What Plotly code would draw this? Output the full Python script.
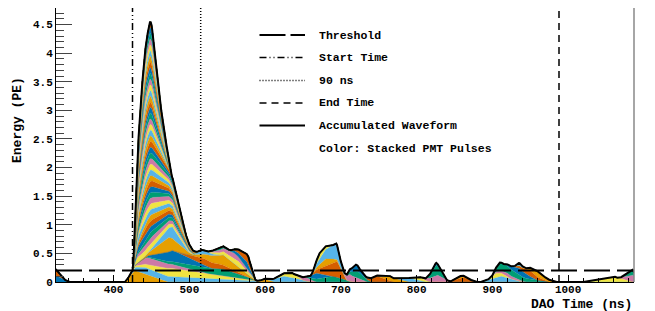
import plotly.graph_objects as go

# ---------------- data ----------------
# Triangle pulse: (start ns, peak ns, end ns, amplitude PE)
# Trapezoid pulse: (start ns, top-begin ns, top-end ns, end ns, amplitude PE)
# Stacked bottom first.
pulses_left_edge = [
    (310, 322, 342, 0.12),
    (312, 324, 336, 0.11),
]
pulses_main_base = [
    (415, 428, 470, 0.20),
    (418, 440, 600, 0.12),
    (420, 475, 595, 0.15),
    (425, 445, 520, 0.12),
    (430, 545, 590, 0.12),
    (440, 478, 530, 0.20),
    (480, 520, 580, 0.12),
    (500, 545, 588, 0.18),
    (505, 516, 540, 0.08),
    (520, 565, 590, 0.10),
    (525, 560, 585, 0.10),
    (525, 540, 560, 0.05),
    (552, 576, 586, 0.12),
    (555, 578, 587, 0.15),
    (440, 472, 505, 0.25),
    (445, 478, 500, 0.20),
]
pulses_main_peak = [
    (425, 432, 449, 512, 0.1), (426, 440, 450, 508, 0.1), (425, 447, 451, 510, 0.1),
    (426, 433, 448, 506, 0.1), (427, 441, 449, 514, 0.1), (425, 448, 450, 509, 0.1),
    (426, 431, 447, 511, 0.1), (427, 439, 450, 507, 0.1), (426, 446, 452, 510, 0.1),
    (425, 432, 448, 496, 0.1), (426, 440, 449, 493, 0.1), (427, 447, 450, 497, 0.1),
    (425, 433, 447, 494, 0.1), (426, 441, 451, 498, 0.1), (427, 448, 450, 492, 0.1),
    (426, 431, 449, 495, 0.1), (425, 439, 448, 496, 0.1), (427, 442, 450, 494, 0.1),
    (426, 446, 451, 497, 0.1),
    (425, 432, 449, 476, 0.1), (426, 440, 450, 474, 0.1), (427, 447, 449, 477, 0.1),
    (425, 433, 448, 473, 0.1), (426, 441, 450, 475, 0.1), (427, 448, 451, 476, 0.1),
    (426, 432, 447, 474, 0.1), (425, 439, 449, 477, 0.1), (427, 442, 450, 473, 0.1),
    (426, 447, 450, 475, 0.1), (425, 431, 448, 476, 0.1), (426, 440, 451, 474, 0.1),
    (427, 438, 449, 475, 0.1), (426, 446, 450, 477, 0.1), (427, 441, 449, 473, 0.1),
    (426, 448, 452, 476, 0.1), (427, 440, 450, 474, 0.1),
    (427, 446, 450, 463, 0.1), (428, 447, 449, 461, 0.1), (428, 448, 451, 462, 0.1),
    (429, 449, 450, 462, 0.1),
]
pulses_late = [
    (588, 600, 612, 0.05), (598, 625, 660, 0.10), (610, 636, 650, 0.09),
    (638, 655, 668, 0.06), (645, 690, 715, 0.10), (655, 668, 690, 0.10),
    (660, 695, 708, 0.28), (662, 680, 700, 0.12), (660, 694, 705, 0.28),
    (663, 672, 690, 0.10), (700, 712, 735, 0.12), (705, 722, 740, 0.12),
    (708, 720, 733, 0.12), (725, 748, 770, 0.10), (745, 765, 790, 0.08),
    (770, 790, 812, 0.07), (790, 805, 818, 0.06), (805, 828, 845, 0.12),
    (812, 826, 840, 0.18), (818, 825, 835, 0.05), (842, 862, 880, 0.08),
    (845, 858, 872, 0.04), (885, 912, 940, 0.10), (893, 905, 925, 0.08),
    (895, 920, 945, 0.06), (900, 910, 970, 0.15), (915, 935, 960, 0.12),
    (925, 950, 975, 0.10), (940, 960, 985, 0.10), (930, 936, 945, 0.05),
    (1020, 1062, 1082, 0.09), (1065, 1085, 1100, 0.12), (1070, 1084, 1095, 0.10),
]

threshold_pe = 0.2
start_time_ns = 425
ns90_time_ns = 515
end_time_ns = 988

x_range = [324, 1087]
y_range = [0, 4.79]

legend_labels = ["Threshold", "Start Time", "90 ns", "End Time",
                 "Accumulated Waveform", "Color: Stacked PMT Pulses"]

# ---------------- style ----------------
palette = ["#0072B2", "#D55E00", "#E69F00", "#56B4E9", "#F0E442", "#CC79A7", "#009E73"]
FONT = "Liberation Mono"
BODY = 8                       # browser default body margin
W, H = 655 - BODY, 311 - BODY  # figure size so the page fits the window
ML, MR, MT, MB = 48, 21, 0, 29
PW, PH = W - ML - MR, H - MT - MB


def pxx(px):   # window pixel -> paper x
    return (px - BODY - ML) / PW


def pxy(py):   # window pixel -> paper y
    return (H - MB - (py - BODY)) / PH


all_pulses = pulses_left_edge + pulses_main_base + pulses_main_peak + pulses_late

fig = go.Figure()
for i, pl in enumerate(all_pulses):
    c = palette[i % len(palette)]
    a = pl[-1]
    if len(pl) == 4:
        xs, ys = [pl[0], pl[1], pl[2]], [0, a, 0]
    else:
        xs, ys = [pl[0], pl[1], pl[2], pl[3]], [0, a, a, 0]
    fig.add_trace(go.Scatter(
        x=xs, y=ys, stackgroup="pmt", stackgaps="interpolate",
        mode="lines", line=dict(width=0.3, color=c), fillcolor=c,
        hoverinfo="skip", showlegend=False))

# accumulated waveform = top of the stack
t_lo = min(pl[0] for pl in all_pulses)
t_hi = max(pl[-2] for pl in all_pulses)
fig.add_trace(go.Scatter(
    x=[t_lo, t_hi], y=[0, 0], stackgroup="pmt", fill="none", mode="lines",
    line=dict(color="black", width=2), hoverinfo="skip", showlegend=False))

shapes = []
shapes.append(dict(type="line", xref="paper", yref="y", x0=0, x1=1,
                   y0=threshold_pe, y1=threshold_pe,
                   line=dict(color="black", width=2, dash="26px,7px")))
shapes.append(dict(type="line", xref="x", yref="paper", x0=start_time_ns, x1=start_time_ns,
                   y0=0, y1=1, line=dict(color="black", width=1.5,
                                         dash="7px,3px,1px,3px,1px,3px")))
shapes.append(dict(type="line", xref="x", yref="paper", x0=ns90_time_ns, x1=ns90_time_ns,
                   y0=0, y1=1, line=dict(color="black", width=1.5, dash="1px,2px")))
shapes.append(dict(type="line", xref="x", yref="paper", x0=end_time_ns, x1=end_time_ns,
                   y0=0, y1=1, line=dict(color="black", width=1.5, dash="7px,5px")))
shapes.append(dict(type="line", xref="paper", yref="paper", x0=1, x1=1, y0=0, y1=1,
                   line=dict(color="#888888", width=1.5)))

leg_rows = [35, 57.5, 80.5, 103, 125.5, 148]
leg_styles = [dict(width=2, dash="26px,5px"),
              dict(width=1.5, dash="7px,3px,1px,3px,1px,3px"),
              dict(width=1.5, dash="1px,2px"),
              dict(width=1.5, dash="7px,5px"),
              dict(width=2, dash="solid"),
              None]
annotations = []
for lab, row, st in zip(legend_labels, leg_rows, leg_styles):
    if st is not None:
        shapes.append(dict(type="line", xref="paper", yref="paper",
                           x0=pxx(259.5), x1=pxx(305), y0=pxy(row), y1=pxy(row),
                           line=dict(color="black", **st)))
    annotations.append(dict(text=lab, xref="paper", yref="paper", x=pxx(316.5), y=pxy(row),
                            xanchor="left", yanchor="middle", showarrow=False,
                            font=dict(family=FONT, size=11.5, color="black", weight="bold")))

annotations.append(dict(text="Energy (PE)", xref="paper", yref="paper",
                        x=pxx(18), y=pxy(120), textangle=-90, showarrow=False,
                        xanchor="center", yanchor="middle",
                        font=dict(family=FONT, size=13, color="black", weight="bold")))
annotations.append(dict(text="DAO Time (ns)", xref="paper", yref="paper",
                        x=pxx(634), y=pxy(304), showarrow=False,
                        xanchor="right", yanchor="middle",
                        font=dict(family=FONT, size=13, color="black", weight="bold")))

tickfont = dict(family=FONT, size=11, color="black", weight="bold")
fig.update_layout(
    width=W, height=H, margin=dict(l=ML, r=MR, t=MT, b=MB, pad=0),
    paper_bgcolor="white", plot_bgcolor="white",
    shapes=shapes, annotations=annotations, showlegend=False,
    xaxis=dict(range=x_range, showgrid=False, zeroline=False, showline=True,
               linecolor="black", linewidth=1, mirror=True,
               ticks="inside", ticklen=7, tickcolor="black", dtick=100, tick0=0,
               tickfont=tickfont, ticklabelstandoff=-3,
               minor=dict(dtick=20, ticks="inside", ticklen=4, tickcolor="black")),
    yaxis=dict(range=y_range, showgrid=False, zeroline=False, showline=True,
               linecolor="black", linewidth=1, mirror=False,
               ticks="inside", ticklen=16, tickcolor="#444444", dtick=0.5, tick0=0,
               tickfont=tickfont,
               minor=dict(dtick=0.1, ticks="inside", ticklen=8, tickcolor="#444444")),
)

fig.write_html("out.html")
